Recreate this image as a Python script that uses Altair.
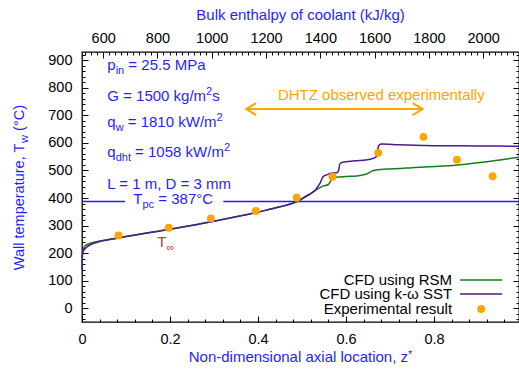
import altair as alt
import pandas as pd

# ----------------------------- data -----------------------------
rsm_z = [0.0, 0.002, 0.006, 0.017, 0.035, 0.067, 0.1, 0.2, 0.3, 0.4, 0.45, 0.495,
         0.511, 0.53, 0.548, 0.559, 0.567, 0.575, 0.6, 0.624, 0.647, 0.662, 0.692,
         0.723, 0.75, 0.8, 0.85, 0.9, 0.95, 0.993]
rsm_T = [185, 205, 225, 235, 242, 251, 260, 287, 316, 349, 368, 392,
         407, 427, 444, 448, 466, 475, 478, 480, 487, 500, 505,
         507, 510, 514, 519, 528, 538, 548]

sst_z = [0.0, 0.0005, 0.002, 0.005, 0.01, 0.021, 0.04, 0.067, 0.1, 0.2, 0.3, 0.4,
         0.45, 0.495, 0.507, 0.53, 0.541, 0.548, 0.556, 0.565, 0.579, 0.583, 0.586,
         0.592, 0.62, 0.655, 0.668, 0.671, 0.674, 0.68, 0.72, 0.8, 0.9, 0.993]
sst_T = [141, 180, 203, 213, 221, 232, 242, 250, 260, 287, 316, 349,
         368, 392, 405, 429, 454, 478, 484, 490, 492, 500, 524,
         530, 535, 541, 548, 565, 590, 596, 593, 590, 589, 588]

exp_z = [0.083, 0.197, 0.293, 0.395, 0.488, 0.569, 0.673, 0.776, 0.852, 0.933]
exp_T = [264, 292, 326, 353, 401, 477, 564, 622, 539, 479]

T_pc = 387
dhtz_z = [0.373, 0.774]
dhtz_T = 723

z_major = [0, 0.2, 0.4, 0.6, 0.8]
T_major = [0, 100, 200, 300, 400, 500, 600, 700, 800, 900]
h_major = [600, 800, 1000, 1200, 1400, 1600, 1800, 2000]

z_domain = [0, 0.993]
T_domain = [-50, 930]
h_domain = [522, 2132]

legend_labels = ["CFD using RSM", "CFD using k-\u03c9 SST", "Experimental result"]

# ----------------------------- style -----------------------------
FONT = "Liberation Sans"
BLUE = "#1f1fff"
GREEN = "#1b7a1b"
PURPLE = "#4d1a8a"
ORANGE = "#ffa500"
BROWN = "#b8423a"

W, H = 437, 270

# tick positions (major + minor)
z_ticks = [round(i * 0.04, 4) for i in range(0, 25)]
T_ticks = list(range(-40, 921, 20))
h_ticks = [round(600 + k * 200 / 9, 6) for k in range(-3, 70)]
h_ticks = [v for v in h_ticks if h_domain[0] <= v <= h_domain[1]]

xs = alt.Scale(domain=z_domain, nice=False, zero=False)
ys = alt.Scale(domain=T_domain, nice=False, zero=False)
hs = alt.Scale(domain=h_domain, nice=False, zero=False)


def inward_axis(orient, values, minor_test, label_expr=None, pad=0):
    kw = dict(orient=orient, values=values, tickSize={"expr": "-6"}, tickWidth=1,
              tickColor="black",
              tickDash={"condition": {"test": minor_test, "value": [3, 20]}, "value": []},
              domain=False, grid=False, title=None)
    if label_expr is None:
        kw["labels"] = False
    else:
        kw.update(labels=True, labelExpr=label_expr, labelFont=FONT, labelFontSize=14.5,
                  labelColor="black", labelPadding=pad, labelOverlap=False,
                  labelFlush=False)
    return alt.Axis(**kw)


z_minor = "abs(datum.value*5 - round(datum.value*5)) > 0.001"
T_minor = "datum.value % 100 != 0"
h_minor = "abs(datum.value/200 - round(datum.value/200)) > 0.001"

bottom_axis = inward_axis("bottom", z_ticks, z_minor,
                          f"{z_minor} ? '' : (datum.value == 0 ? '0' : format(datum.value, '.1f'))",
                          pad=16)
left_axis = inward_axis("left", T_ticks, T_minor,
                        f"{T_minor} ? '' : format(datum.value, 'd')", pad=16)
top_axis = inward_axis("top", h_ticks, h_minor,
                       f"{h_minor} ? '' : format(datum.value, 'd')", pad=12.5)
right_axis = inward_axis("right", T_ticks, T_minor)

# ----------------------------- text helpers -----------------------------
_w = {}
for ch, v in zip("ABCDEFGHIJKLMNOPQRSTUVWXYZ",
                 [667, 667, 722, 722, 667, 611, 778, 722, 278, 500, 667, 556, 833,
                  722, 778, 667, 778, 722, 667, 611, 722, 667, 944, 667, 667, 611]):
    _w[ch] = v
for ch, v in zip("abcdefghijklmnopqrstuvwxyz",
                 [556, 556, 500, 556, 556, 278, 556, 556, 222, 222, 500, 222, 833,
                  556, 556, 556, 556, 333, 500, 278, 556, 500, 722, 500, 500, 500]):
    _w[ch] = v
for ch in "0123456789":
    _w[ch] = 556
_w.update({" ": 278, ",": 278, ".": 278, "-": 333, "(": 333, ")": 333, "/": 278,
           "=": 584, "*": 389, "\u00b0": 400, "\u221e": 713, "\u03c9": 781})


def tw(s, fs):
    return sum(_w.get(c, 556) for c in s) * fs / 1000.0


def compose(parts, fs=15, small=11, sub_dy=4, sup_dy=-6):
    """Split rich text into pieces; leading spaces become offsets (Vega trims them)."""
    out, dx = [], 0.0
    for text, kind in parts:
        if kind == "n":
            size, dy = fs, 0
        elif kind == "sub":
            size, dy = small, sub_dy
        else:
            size, dy = small, sup_dy
        stripped = text.lstrip(" ")
        lead = tw(text[: len(text) - len(stripped)], size)
        out.append((stripped.rstrip(" "), dx + lead, dy, size))
        dx += tw(text, size)
    return out, dx


def text_block(parts, color, z=None, T=None, px=None, py=None, align="left",
               angle=0, **kw):
    pcs, total = compose(parts, **kw)
    shift = {"left": 0.0, "center": -total / 2, "right": -total}[align]
    layers = []
    for text, dx, dy, size in pcs:
        if z is not None:
            df = pd.DataFrame({"z": [z], "T": [T]})
            enc = dict(x=alt.X("z:Q", scale=xs, axis=None),
                       y=alt.Y("T:Q", scale=ys, axis=None))
        else:
            df = pd.DataFrame({"a": [0]})
            enc = dict(x=alt.value(px), y=alt.value(py))
        layers.append(
            alt.Chart(df).mark_text(text=text, align="left", baseline="alphabetic",
                                    dx=dx + shift, dy=dy, fontSize=size, font=FONT,
                                    color=color, angle=angle).encode(**enc))
    return layers


# ----------------------------- marks -----------------------------
rsm_df = pd.DataFrame({"z": rsm_z, "T": rsm_T})
sst_df = pd.DataFrame({"z": sst_z, "T": sst_T})
exp_df = pd.DataFrame({"z": exp_z, "T": exp_T})

ax_x = alt.X("z:Q", scale=xs, axis=None)
ax_y = alt.Y("T:Q", scale=ys, axis=None)

tpc_df = pd.DataFrame({"z1": [z_domain[0], 0.321], "z2": [0.098, z_domain[1]],
                       "T": [T_pc, T_pc]})
tpc_rule = alt.Chart(tpc_df).mark_rule(color=BLUE, strokeWidth=1.5).encode(
    x=alt.X("z1:Q", scale=xs, axis=None), x2="z2", y=alt.Y("T:Q", scale=ys, axis=None))

line_rsm = alt.Chart(rsm_df).mark_line(color=GREEN, strokeWidth=1.5,
                                       interpolate="monotone").encode(
    x=alt.X("z:Q", scale=xs, axis=bottom_axis),
    y=alt.Y("T:Q", scale=ys, axis=left_axis))
line_sst = alt.Chart(sst_df).mark_line(color=PURPLE, strokeWidth=1.5,
                                       interpolate="monotone").encode(x=ax_x, y=ax_y)
pts = alt.Chart(exp_df).mark_circle(color=ORANGE, size=62, opacity=1).encode(x=ax_x, y=ax_y)

aux = alt.Chart(pd.DataFrame({"h": h_domain, "T": T_domain})).mark_point(opacity=0).encode(
    x=alt.X("h:Q", scale=hs, axis=top_axis),
    y=alt.Y("T:Q", scale=ys, axis=right_axis))

arrow_df = pd.DataFrame({"z1": [dhtz_z[0]], "z2": [dhtz_z[1]], "T": [dhtz_T]})
arrow = alt.Chart(arrow_df).mark_rule(color=ORANGE, strokeWidth=2).encode(
    x=alt.X("z1:Q", scale=xs, axis=None), x2="z2", y=alt.Y("T:Q", scale=ys, axis=None))
head_l = alt.Chart(arrow_df).mark_point(shape="M2,-1.2L0,0L2,1.2", size=100, filled=False,
                                        color=ORANGE, strokeWidth=2, opacity=1).encode(
    x=alt.X("z1:Q", scale=xs, axis=None), y=alt.Y("T:Q", scale=ys, axis=None))
head_r = alt.Chart(arrow_df).mark_point(shape="M-2,-1.2L0,0L-2,1.2", size=100, filled=False,
                                        color=ORANGE, strokeWidth=2, opacity=1).encode(
    x=alt.X("z2:Q", scale=xs, axis=None), y=alt.Y("T:Q", scale=ys, axis=None))

# legend (inside the plot, bottom right)
leg_line_df = pd.DataFrame({"z1": [0.859, 0.859], "z2": [0.955, 0.955], "T": [102.4, 51.5],
                            "c": [GREEN, PURPLE]})
leg_lines = alt.Chart(leg_line_df).mark_rule(strokeWidth=1.5).encode(
    x=alt.X("z1:Q", scale=xs, axis=None), x2="z2", y=alt.Y("T:Q", scale=ys, axis=None),
    color=alt.Color("c:N", scale=None))
leg_dot = alt.Chart(pd.DataFrame({"z": [0.907], "T": [-2.9]})).mark_circle(
    color=ORANGE, size=62, opacity=1).encode(x=ax_x, y=ax_y)
leg_txt_df = pd.DataFrame({"z": [0.841] * 3, "T": [86, 33.4, -19.2], "t": legend_labels})
leg_txt = alt.Chart(leg_txt_df).mark_text(align="right", baseline="alphabetic", fontSize=15,
                                          font=FONT, color="black").encode(
    x=ax_x, y=ax_y, text="t:N")

texts = []
texts += text_block([("p", "n"), ("in", "sub"), (" = 25.5 MPa", "n")], BLUE, z=0.0575, T=864.6)
texts += text_block([("G = 1500 kg/m", "n"), ("2", "sup"), ("s", "n")], BLUE, z=0.0575, T=752.1)
texts += text_block([("q", "n"), ("w", "sub"), (" = 1810 kW/m", "n"), ("2", "sup")], BLUE,
                    z=0.0575, T=658.8)
texts += text_block([("q", "n"), ("dht", "sub"), (" = 1058 kW/m", "n"), ("2", "sup")], BLUE,
                    z=0.0575, T=547.7)
texts += text_block([("L = 1 m, D = 3 mm", "n")], BLUE, z=0.0575, T=432.7)
texts += text_block([("T", "n"), ("pc", "sub"), (" = 387\u00b0C", "n")], BLUE, z=0.1166, T=378.2)
texts += text_block([("T", "n"), ("\u221e", "sub")], BROWN, z=0.171, T=223.2)
texts += text_block([("DHTZ observed experimentally", "n")], ORANGE, z=0.680, T=755.7,
                    align="center")
# axis titles
texts += text_block([("Wall temperature, T", "n"), ("w", "sub"), (" (\u00b0C)", "n")], BLUE,
                    px=-58.5, py=218.2, angle=270, fs=14.5)
texts += text_block([("Non-dimensional axial location, z", "n"), ("*", "sup")], BLUE,
                    px=218.5, py=310.3, align="center", sup_dy=-4)
texts += text_block([("Bulk enthalpy of coolant (kJ/kg)", "n")], BLUE,
                    px=218.5, py=-32.3, align="center")

layers = [tpc_rule, line_rsm, line_sst, pts, aux, arrow, head_l, head_r,
          leg_lines, leg_dot, leg_txt] + texts

chart = alt.layer(*layers).resolve_scale(x="independent").resolve_axis(
    x="independent", y="independent").properties(
    width=W, height=H,
    autosize=alt.AutoSizeParams(type="none"),
    padding={"left": 82, "top": 52, "right": 0, "bottom": 49},
).configure_view(stroke="black", strokeWidth=1.3)

chart.save("out.html", embed_options={"renderer": "svg", "actions": False})
